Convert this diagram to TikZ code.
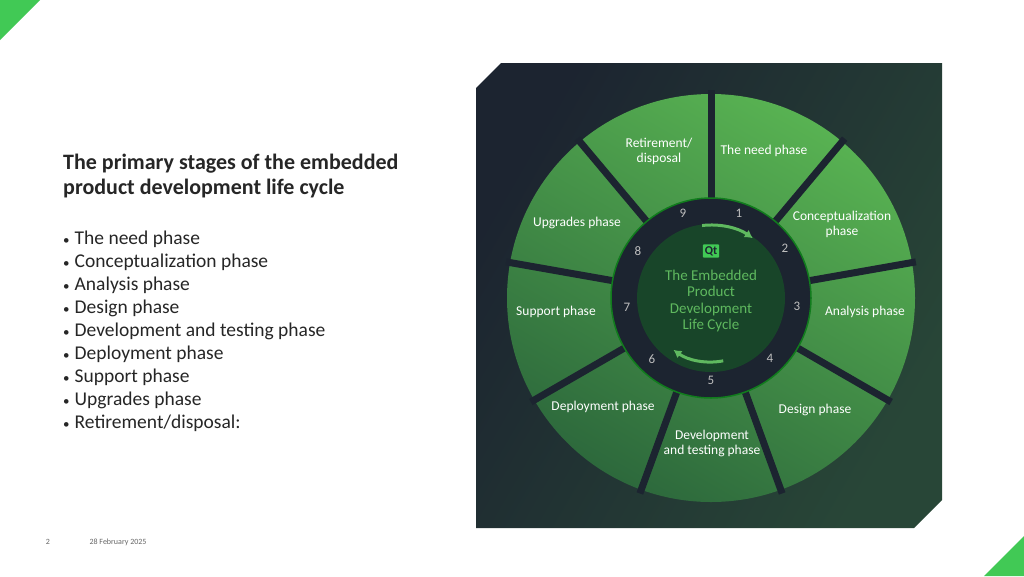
\documentclass[tikz,border=0pt]{standalone}
\usepackage{fontspec}
\setmainfont{Carlito}
\usetikzlibrary{arrows.meta}
\begin{document}
\begin{tikzpicture}[x=1pt,y=-1pt,
  seg/.style={text=white,font=\fontsize{13.5}{15}\selectfont,align=center},
  num/.style={text=white!75!black,font=\fontsize{13}{14}\selectfont},
  bul/.style={anchor=west,font=\fontsize{19.5}{21}\selectfont,text=black!85},
  ctr/.style={text=cgreen,font=\fontsize{15}{16.5}\selectfont,align=center}]
\definecolor{qgreen}{RGB}{65,201,85}
\definecolor{cgreen}{RGB}{95,185,95}
\definecolor{navy}{RGB}{28,36,48}
\definecolor{navyg}{RGB}{40,70,55}
\definecolor{gbright}{RGB}{88,178,82}
\definecolor{gdark}{RGB}{45,105,60}
\useasboundingbox (0,0) rectangle (1024,576);
\fill[white] (0,0) rectangle (1024,576);
\fill[qgreen] (0,0) -- (40,0) -- (0,40) -- cycle;
\fill[qgreen] (1024,536) -- (1024,576) -- (984,576) -- cycle;
% left text
\node[anchor=west,font=\bfseries\fontsize{22}{25}\selectfont,align=left,text=black!85,inner sep=0pt] (title) at (63,176)
  {The primary stages of the embedded\\product development life cycle};
\foreach \t [count=\i] in {The need phase,Conceptualization phase,Analysis phase,Design phase,Development and testing phase,Deployment phase,Support phase,Upgrades phase,Retirement/disposal:}
  \node[bul,inner sep=0pt] (b\i) at (63,216+23*\i) {{\fontsize{13}{13}\selectfont\textbullet}\hspace{5pt}\t};
\node[font=\fontsize{8}{9}\selectfont,text=black!60] (pg) at (48,542) {2};
\node[anchor=west,font=\fontsize{8}{9}\selectfont,text=black!60] (dt) at (86,542) {28 February 2025};
% background panel
\shade[left color=navy,right color=navyg,shading angle=60]
  (476,88) -- (501,63) -- (942,63) -- (942,500) -- (914,528) -- (476,528) -- cycle;
\coordinate (c) at (711,298);
% wheel
\shade[top color=gbright,bottom color=gdark,shading angle=-30] (c) circle (204);
\foreach \a in {90,50,10,-30,-70,-110,-150,170,130}
  \draw[navy,line width=7pt] (c) -- ++(-\a:208);
\fill[navy] (c) circle (100);
\fill[navy!85!green] (c) circle (74);
\draw[navy!60!green,line width=1.5pt] (c) circle (100);
% labels
\node[seg] (s9) at (659,151) {Retirement/\\disposal};
\node[seg] (s1) at (764,151) {The need phase};
\node[seg] (s2) at (842,224) {Conceptualization\\phase};
\node[seg] (s3) at (865,312) {Analysis phase};
\node[seg] (s4) at (815,410) {Design phase};
\node[seg] (s5) at (712,443) {Development\\and testing phase};
\node[seg] (s6) at (603,407) {Deployment phase};
\node[seg] (s7) at (556,312) {Support phase};
\node[seg] (s8) at (577,223) {Upgrades phase};
\node[num] (n1) at (739,213) {1};
\node[num] (n2) at (785,248) {2};
\node[num] (n3) at (797,306) {3};
\node[num] (n4) at (770,358) {4};
\node[num] (n5) at (711,380) {5};
\node[num] (n6) at (652,359) {6};
\node[num] (n7) at (627,307) {7};
\node[num] (n8) at (638,251) {8};
\node[num] (n9) at (683,213) {9};
% centre
\node[fill=qgreen,rounded corners=1pt,inner sep=2pt,text=navy,font=\bfseries\fontsize{12}{12}\selectfont] (qt) at (711,251) {Qt};
\node[ctr] (ct) at (711,301) {The Embedded\\Product\\Development\\Life Cycle};
\draw[cgreen,line width=3pt,-{Latex[length=8pt,width=9pt]}] ([shift={(-97:73)}]c) arc[start angle=-97,end angle=-55,radius=73];
\draw[cgreen,line width=3pt,-{Latex[length=8pt,width=9pt]}] ([shift={(79:64)}]c) arc[start angle=79,end angle=126,radius=64];
\end{tikzpicture}
\end{document}
